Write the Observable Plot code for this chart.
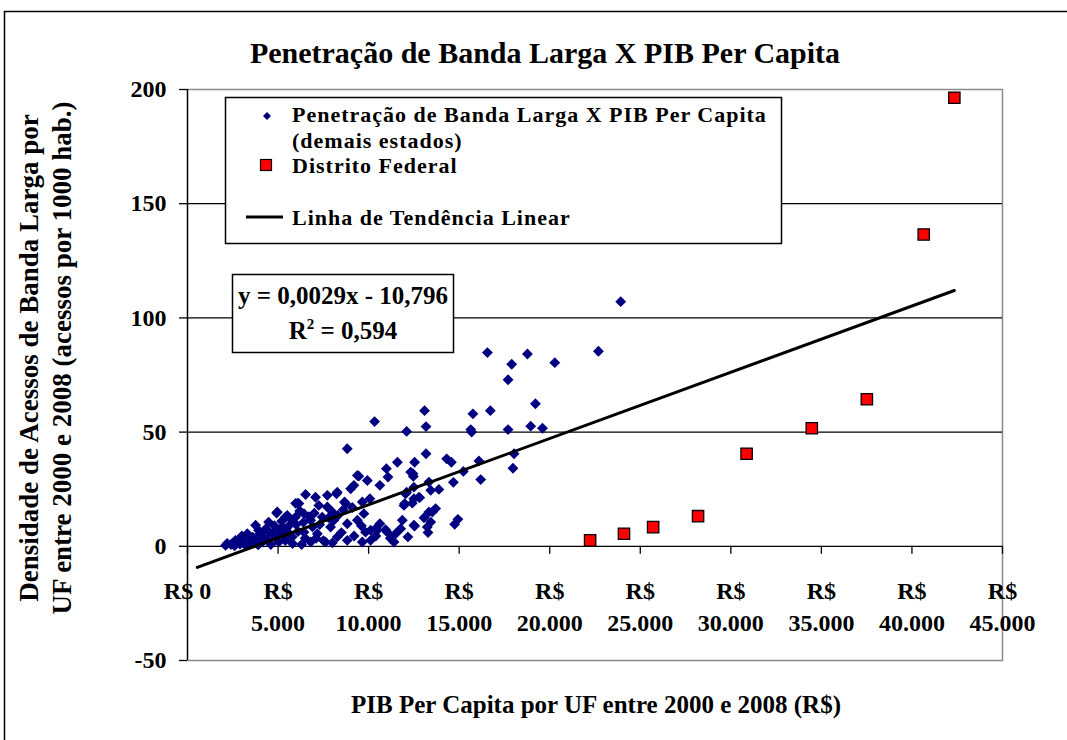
<!DOCTYPE html>
<html>
<head>
<meta charset="utf-8">
<script src="https://cdn.jsdelivr.net/npm/d3@7"></script>
<script src="https://cdn.jsdelivr.net/npm/@observablehq/plot@0.6"></script>
<style>
  html, body { margin: 0; padding: 0; background: #fff; }
  #chart { width: 1067px; height: 740px; overflow: hidden; }
</style>
</head>
<body>
<div id="chart"></div>
<script>
// ---- Data ----
const blueX = [23920,22690,16560,18770,17900,20280,17700,13090,15760,16720,19210,12100,13170,15640,15690,17700,18950,19600,18030,17970,16090,15230,16190,14680,13170,12540,14310,14570,12320,12470,13330,13430,13880,12820,12100,11990,12410,13700,13330,13060,13430,14930,14750,11860,11770,12540,13280,12170,10330,8820,11590,10980,11070,12450,9460,9190,9010,10620,8230,7720,6520,6090,8670,9650,10070,12500,4920,5510,7250,10620,11400,9650,2100,3300,10940,10480,
  4960,5970,4480,3920,3370,2650,2190,5410,5780,5230,4680,4130,5040,5780,3760,3020,
  9380,7070,8270,7720,8730,9930,6150,5970,6800,7440,8080,7900,8820,9380,9740,7170,6430,8820,8270,7620,6800,10110,6430,
  12500,12040,12780,11950,12500,13520,13240,9830,10390,11030,11490,10110,
  2900,3500,4000,4400,4800,5500,6000,6500,3200,4600,5800,6200,7000,7500,8000,8500,6900,5200,4300,3600,
  2400,2700,3100,3400,3800,4200,4500,4900,5300,5600,6100,6400,6700,7300,7800,8300,8600,9100,5000,3900,5400,6300,7100,8000,9200,9600,10400,11200,2600,3000];
const blueY = [107.1,85.4,84.8,84.2,79.7,80.4,72.9,59.4,58.0,59.4,62.4,50.3,52.4,51.1,50.0,51.1,52.6,51.7,40.5,34.2,37.4,32.8,29.2,28.0,40.5,36.8,38.3,36.8,32.5,30.6,28.1,24.5,24.9,21.3,23.7,18.7,18.9,16.5,15.0,12.5,10.6,11.8,9.6,11.4,7.7,8.9,6.0,4.1,54.6,42.7,36.8,34.0,30.3,31.8,30.7,26.7,25.2,26.7,23.0,22.3,22.7,18.9,19.4,19.4,20.8,20.8,14.6,13.5,17.9,9.9,1.9,1.9,0.4,5.5,7.3,7.0,
  15.0,18.8,10.6,7.0,4.8,2.6,1.2,12.8,11.4,8.4,5.5,1.9,1.9,4.1,9.2,3.4,
  31.0,21.5,23.7,17.2,18.7,28.8,18.7,12.8,11.4,12.8,11.4,8.4,9.9,11.4,14.3,5.5,6.2,2.6,4.1,1.9,1.9,7.0,14.3,
  25.9,23.0,21.5,17.9,9.2,15.0,8.4,6.2,7.7,6.2,5.5,2.6,
  1.0,2.0,5.5,3.0,9.0,6.5,9.5,3.5,0.5,0.8,1.2,15.5,14.5,2.5,15.0,6.0,8.5,11.0,7.5,4.0,
  0.8,1.5,2.2,1.0,2.8,4.0,6.5,3.5,4.8,9.0,6.5,10.5,13.0,9.5,12.5,13.5,16.0,17.0,6.0,0.6,2.5,0.8,3.5,1.5,4.5,9.0,4.5,3.5,0.2,4.5];
const dfX = [22230,24100,25710,28190,30870,34470,37510,40650,42340];
const dfY = [2.6,5.5,8.4,13.2,40.5,51.7,64.4,136.5,196.4];
const trendSlope = [0.0029];
const trendIntercept = [-10.796];
const trendXRange = [540, 42340];
const xTicks = [0,5000,10000,15000,20000,25000,30000,35000,40000,45000];
const xTickLabels = ["R$ 0","R$\n5.000","R$\n10.000","R$\n15.000","R$\n20.000","R$\n25.000","R$\n30.000","R$\n35.000","R$\n40.000","R$\n45.000"];
const yTicks = [-50,0,50,100,150,200];
const yTickLabels = ["-50","0","50","100","150","200"];
const gridValues = [50,100,150];

const title = "Penetração de Banda Larga X PIB Per Capita";
const xTitle = "PIB Per Capita por UF entre 2000 e 2008 (R$)";
const yTitle = ["Densidade de Acessos de Banda Larga por", "UF entre 2000 e 2008 (acessos por 1000 hab.)"];
const legendLabels = ["Penetração de Banda Larga X PIB Per Capita", "(demais estados)", "Distrito Federal", "Linha de Tendência Linear"];
const eqLabel = "y = 0,0029x - 10,796";
const r2Value = "0,594";

// ---- Tables ----
const blue = blueX.map((x, i) => ({x, y: blueY[i]}));
const df = dfX.map((x, i) => ({x, y: dfY[i]}));
const trend = trendXRange.map(x => ({x, y: trendSlope[0] * x + trendIntercept[0]}));

const FONT = "'Liberation Serif', 'Times New Roman', serif";

const plot = Plot.plot({
  width: 1067,
  height: 740,
  marginLeft: 187,
  marginRight: 65,
  marginTop: 89,
  marginBottom: 80,
  style: {fontFamily: FONT, fontWeight: "bold", background: "transparent", color: "black"},
  x: {domain: [0, 45000], axis: null},
  y: {domain: [-50, 200], axis: null},
  marks: [
    Plot.frame({stroke: "#8a8a8a", strokeWidth: 1.5}),
    Plot.ruleY(gridValues, {stroke: "black", strokeWidth: 1.3}),
    Plot.ruleY([0], {stroke: "black", strokeWidth: 1.3}),
    Plot.ruleX([0], {stroke: "black", strokeWidth: 1.3}),
    Plot.ruleX(xTicks, {x: d => d, y1: 0, y2: 0, insetBottom: -8, stroke: "black", strokeWidth: 1.3}),
    Plot.axisY(yTicks, {tickSize: 8, tickPadding: 13, fontSize: 24, fontWeight: "bold", label: null,
      tickFormat: d => yTickLabels[yTicks.indexOf(d)], stroke: "black", strokeWidth: 1.3}),
    Plot.text(xTicks, {x: d => d, y: 0, text: (d, i) => xTickLabels[i], lineAnchor: "top", dy: 30,
      fontSize: 24, fontWeight: "bold", lineHeight: 1.33, fill: "black"}),
    Plot.dot(blue, {x: "x", y: "y", symbol: "diamond2", r: 4.9, fill: "#000080", stroke: "none"}),
    Plot.line(trend, {x: "x", y: "y", stroke: "black", strokeWidth: 3}),
    Plot.dot(df, {x: "x", y: "y", symbol: "square", r: 6.4, fill: "#ff0000", stroke: "black", strokeWidth: 1.3})
  ]
});

document.getElementById("chart").appendChild(plot);

// ---- Annotations: title, axis titles, legend, equation box ----
const svg = d3.select(plot);
svg.attr("font-family", FONT);

svg.append("rect").attr("x", 4.5).attr("y", 11.5).attr("width", 1120).attr("height", 800)
  .attr("fill", "none").attr("stroke", "black").attr("stroke-width", 1.5);

svg.append("text").attr("x", 545).attr("y", 63).attr("text-anchor", "middle")
  .attr("font-size", 30).attr("font-weight", "bold").attr("fill", "black").text(title);

svg.append("text").attr("x", 596).attr("y", 713).attr("text-anchor", "middle")
  .attr("font-size", 25).attr("font-weight", "bold").attr("fill", "black").text(xTitle);

const yt = svg.append("text").attr("transform", "translate(38,358) rotate(-90)")
  .attr("text-anchor", "middle").attr("font-size", 27).attr("font-weight", "bold").attr("fill", "black");
yt.append("tspan").attr("x", 0).attr("y", 0).text(yTitle[0]);
yt.append("tspan").attr("x", 0).attr("y", 33).text(yTitle[1]);

// Legend
const lg = svg.append("g").attr("text-anchor", "start");
lg.append("rect").attr("x", 225.5).attr("y", 97.5).attr("width", 556).attr("height", 146)
  .attr("fill", "white").attr("stroke", "black").attr("stroke-width", 1.5);
lg.append("path").attr("d", d3.symbol(d3.symbolDiamond2, 40)()).attr("transform", "translate(267,116)")
  .attr("fill", "#000080");
lg.append("rect").attr("x", 260.5).attr("y", 159.5).attr("width", 11).attr("height", 11)
  .attr("fill", "#ff0000").attr("stroke", "black").attr("stroke-width", 1.2);
lg.append("line").attr("x1", 246).attr("x2", 283).attr("y1", 217).attr("y2", 217)
  .attr("stroke", "black").attr("stroke-width", 3);
const legendY = [122, 148, 173, 225];
legendLabels.forEach((t, i) => {
  lg.append("text").attr("x", 292).attr("y", legendY[i]).attr("text-anchor", "start")
    .attr("font-size", 22).attr("font-weight", "bold")
    .attr("letter-spacing", 1).attr("fill", "black").text(t);
});

// Equation box
const eq = svg.append("g");
eq.append("rect").attr("x", 232.5).attr("y", 274.5).attr("width", 221).attr("height", 78)
  .attr("fill", "white").attr("stroke", "black").attr("stroke-width", 1.5);
eq.append("text").attr("x", 343).attr("y", 304).attr("text-anchor", "middle").attr("font-size", 25)
  .attr("font-weight", "bold").attr("fill", "black").text(eqLabel);
const r2 = eq.append("text").attr("x", 343).attr("y", 339).attr("text-anchor", "middle").attr("font-size", 25)
  .attr("font-weight", "bold").attr("fill", "black");
r2.append("tspan").text("R");
r2.append("tspan").attr("font-size", 15).attr("dy", -10).text("2");
r2.append("tspan").attr("dy", 10).text(" = " + r2Value);
</script>
</body>
</html>
